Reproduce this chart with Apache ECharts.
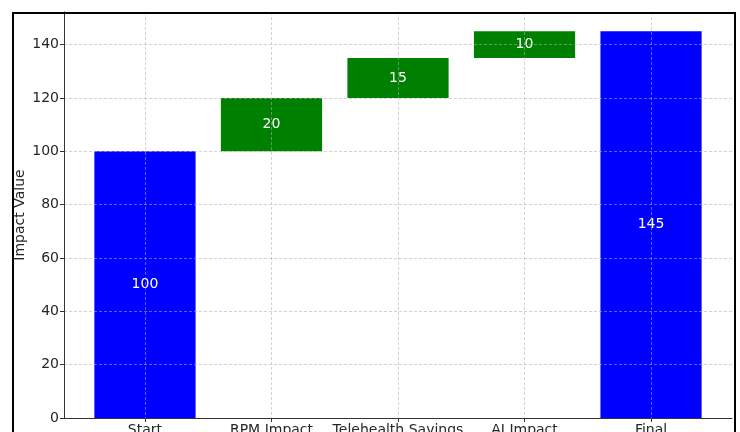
<!DOCTYPE html>
<html>
<head>
<meta charset="utf-8">
<script src="https://cdn.jsdelivr.net/npm/echarts@6/dist/echarts.min.js"></script>
<style>
  html, body { margin: 0; padding: 0; background: #fff; }
  #main { width: 740px; height: 432px; }
</style>
</head>
<body>
<div id="main"></div>
<script>
// waterfall data
const categories = ['Start', 'RPM Impact', 'Telehealth Savings', 'AI Impact', 'Final'];
const startValue = 100;
const impacts = [20, 15, 10];
const finalValue = 145;
const yTicks = [0, 20, 40, 60, 80, 100, 120, 140];

const BLUE = '#0000ff';
const GREEN = '#008000';

// bottoms & heights of each bar
const heights = [startValue].concat(impacts, [finalValue]);
const bottoms = [0];
let running = startValue;
impacts.forEach(function (v) { bottoms.push(running); running += v; });
bottoms.push(0);
const colors = categories.map(function (c, i) {
  return (i === 0 || i === categories.length - 1) ? BLUE : GREEN;
});

const idx = categories.map(function (c, i) { return i; });

const myChart = echarts.init(document.getElementById('main'));

const font = 'DejaVu Sans';
const gridLine = { show: true, lineStyle: { color: 'rgba(176,176,176,0.7)', type: [3, 2], width: 0.8 } };

const option = {
  animation: false,
  textStyle: { fontFamily: font },
  grid: { left: 64, right: 8, top: 12, bottom: 14, containLabel: false, outerBoundsMode: 'none' },
  xAxis: {
    type: 'value',
    min: -0.64,
    max: 4.64,
    z: 5,
    axisLine: { show: true, onZero: false, lineStyle: { color: '#333', width: 1 } },
    axisTick: { show: true, length: 4, customValues: idx, lineStyle: { color: '#333' } },
    axisLabel: {
      customValues: idx,
      margin: 5,
      color: '#262626',
      fontSize: 14,
      fontFamily: font,
      formatter: function (v) { return categories[Math.round(v)] || ''; }
    },
    splitLine: gridLine
  },
  yAxis: {
    type: 'value',
    min: 0,
    max: 152.25,
    interval: 20,
    z: 5,
    axisLine: { show: true, onZero: false, lineStyle: { color: '#333', width: 1 } },
    axisTick: { show: true, length: 4, customValues: yTicks, lineStyle: { color: '#333' } },
    axisLabel: {
      customValues: yTicks,
      margin: 5,
      color: '#262626',
      fontSize: 14,
      fontFamily: font
    },
    splitLine: gridLine
  },
  series: [
    {
      type: 'custom',
      z: 2,
      data: idx.map(function (i) { return [i, bottoms[i], bottoms[i] + heights[i], heights[i]]; }),
      encode: { x: 0, y: [1, 2] },
      renderItem: function (params, api) {
        const i = api.value(0);
        const p0 = api.coord([i - 0.4, api.value(1)]);
        const p1 = api.coord([i + 0.4, api.value(2)]);
        return {
          type: 'rect',
          shape: { x: p0[0], y: p1[1], width: p1[0] - p0[0], height: p0[1] - p1[1] },
          style: {
            fill: colors[i],
            text: String(api.value(3)),
            textFill: '#ffffff',
            fontSize: 14,
            fontFamily: font,
            textPosition: 'inside'
          }
        };
      }
    }
  ],
  graphic: [
    {
      type: 'rect',
      left: 10.5,
      top: 10.5,
      shape: { width: 722, height: 440 },
      style: { fill: 'none', stroke: '#000', lineWidth: 2 },
      z: 100
    },
    {
      // y axis title
      type: 'text',
      x: 20,
      y: 215,
      rotation: Math.PI / 2,
      style: {
        text: 'Impact Value',
        fill: '#262626',
        font: '14px "DejaVu Sans"',
        align: 'center',
        verticalAlign: 'middle'
      },
      z: 10
    }
  ]
};

myChart.setOption(option);
</script>
</body>
</html>
